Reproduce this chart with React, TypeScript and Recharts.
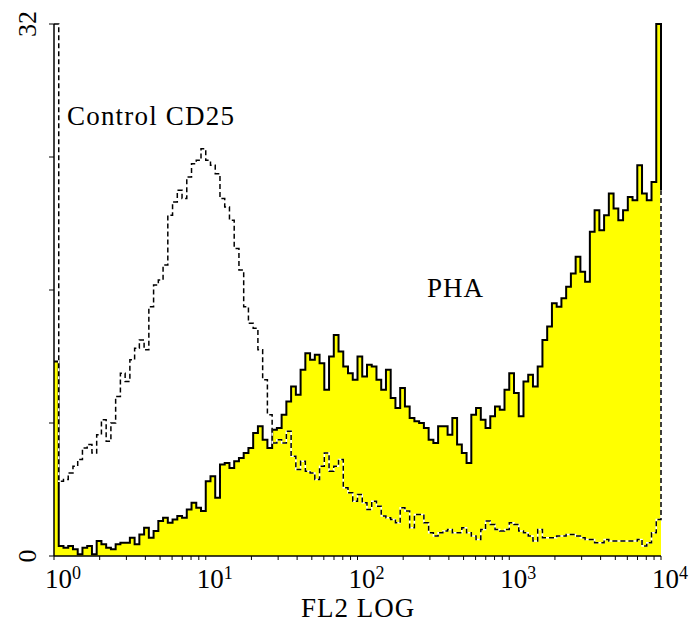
import { Area, ComposedChart, Line, XAxis, YAxis } from 'recharts';

const serifStyle = { fontFamily: "'Liberation Serif', 'DejaVu Serif', serif" };

// 129 log channels, 32 per decade, from 10^0 to 10^4
const channelsPerDecade = 32;

const phaCounts = [
  11.7, 0.6, 0.5, 0.6, 0.4, 0.1, 0.5, 0.6, 0.1, 0.9,
  0.7, 0.5, 0.4, 0.7, 0.8, 0.8, 1.1, 0.7, 1.3, 1.7,
  1.1, 1.5, 2.1, 2.3, 2.0, 2.2, 2.4, 2.3, 2.8, 3.2,
  2.9, 2.7, 4.5, 4.8, 3.5, 5.5, 5.6, 5.3, 5.7, 5.9,
  6.2, 6.5, 7.4, 7.8, 7.0, 6.5, 7.6, 7.7, 8.5, 9.3,
  10.2, 9.7, 11.2, 12.2, 11.8, 12.1, 11.6, 10.0, 12.0, 13.3,
  12.3, 11.4, 11.0, 10.6, 12.0, 10.8, 11.5, 11.4, 10.6, 10.0,
  11.2, 9.5, 8.9, 10.1, 9.0, 8.3, 8.1, 8.0, 7.7, 7.0,
  6.8, 7.8, 7.8, 7.3, 8.3, 6.7, 6.2, 5.6, 8.5, 8.9,
  8.2, 7.7, 8.4, 9.0, 8.8, 10.0, 11.0, 9.8, 8.4, 10.5,
  10.9, 10.2, 11.4, 13.0, 13.8, 15.2, 15.0, 15.5, 16.2, 17.0,
  18.0, 17.1, 16.5, 19.5, 20.8, 19.6, 20.5, 21.8, 20.9, 20.2,
  20.8, 21.6, 21.4, 23.5, 21.8, 21.4, 22.5, 32, 22,
];

const controlCounts = [
  32, 4.5, 4.6, 5.0, 5.4, 5.8, 6.5, 6.7, 6.2, 7.3,
  8.2, 6.9, 8.0, 9.6, 11.0, 10.5, 11.8, 12.5, 13.0, 12.4,
  15.0, 16.3, 16.6, 17.5, 20.5, 21.3, 22.0, 21.5, 22.8, 23.6,
  23.8, 24.5, 23.8, 23.5, 23.0, 21.5, 21.0, 20.2, 18.5, 17.2,
  15.0, 14.0, 13.7, 12.4, 10.6, 8.5, 6.8, 7.0, 6.8, 7.5,
  6.0, 5.2, 5.7, 5.1, 5.0, 4.6, 5.4, 6.2, 5.1, 5.4,
  5.8, 4.1, 3.8, 3.3, 3.7, 3.2, 2.8, 3.3, 3.0, 2.4,
  2.3, 2.2, 2.0, 2.9, 2.7, 1.7, 2.5, 2.5, 2.0, 1.4,
  1.2, 1.4, 1.5, 1.6, 1.4, 1.4, 1.7, 1.4, 1.2, 1.0,
  1.6, 2.1, 1.9, 1.6, 1.5, 1.6, 2.0, 1.9, 1.5, 1.4,
  1.2, 0.9, 1.6, 1.1, 1.1, 1.1, 1.2, 1.2, 1.3, 1.3,
  1.2, 1.1, 1.0, 1.0, 0.8, 0.8, 1.0, 0.9, 0.9, 0.9,
  0.9, 0.9, 0.9, 1.0, 0.6, 0.8, 1.4, 2.2, 22,
];

const decades = [1, 10, 100, 1000, 10000];
const minorSteps = [1, 2, 3, 4, 5, 6, 7, 8, 9];
const countTicks = [0, 8, 16, 24, 32];
const countLabels = [0, 32];

const xTicks = decades
  .slice(0, -1)
  .flatMap((d) => minorSteps.map((k) => k * d))
  .concat(decades[decades.length - 1]);

const data = phaCounts.map((pha, ch) => ({
  fl2: Math.pow(10, ch / channelsPerDecade),
  pha,
  control: controlCounts[ch],
}));

const FlTick = (props: any) => {
  const { x, y, payload } = props;
  const exp = Math.round(Math.log10(payload.value));
  if (Math.pow(10, exp) !== payload.value) return <g />;
  return (
    <text x={x - 9} y={y + 26} fontSize={27} style={serifStyle} fill='#000' textAnchor='start'>
      10
      <tspan dy={-9} fontSize={18}>
        {exp}
      </tspan>
    </text>
  );
};

const CountTick = (props: any) => {
  const { x, y, payload } = props;
  if (!countLabels.includes(payload.value)) return <g />;
  const cx = x - 20;
  return (
    <text
      x={cx}
      y={y}
      transform={`rotate(-90 ${cx} ${y})`}
      textAnchor='middle'
      dominantBaseline='central'
      fontSize={26}
      style={serifStyle}
      fill='#000'>
      {payload.value}
    </text>
  );
};

const App = () => {
  return (
    <div style={{ position: 'absolute', left: 0, top: 0, width: 694, height: 626, background: '#fff' }}>
      <ComposedChart width={694} height={626} data={data} margin={{ top: 24, right: 33, bottom: 0, left: 0 }}>
        <XAxis
          dataKey='fl2'
          type='number'
          scale='log'
          domain={[1, 10000]}
          ticks={xTicks}
          interval={0}
          height={70}
          axisLine={{ stroke: '#000', strokeWidth: 1.5 }}
          tickLine={{ stroke: '#000' }}
          tickSize={4}
          tick={(p: any) => <FlTick {...p} />}
        />
        <YAxis
          type='number'
          domain={[0, 32]}
          ticks={countTicks}
          interval={0}
          width={54}
          axisLine={{ stroke: '#000', strokeWidth: 1.5 }}
          tickLine={{ stroke: '#000' }}
          tickSize={5}
          tick={(p: any) => <CountTick {...p} />}
        />
        <Area
          dataKey='pha'
          type='stepAfter'
          stroke='#000'
          strokeWidth={2}
          fill='#ffff00'
          fillOpacity={1}
          dot={false}
          activeDot={false}
          isAnimationActive={false}
        />
        <Line
          dataKey='control'
          type='stepAfter'
          stroke='#fff'
          strokeWidth={1.5}
          dot={false}
          activeDot={false}
          isAnimationActive={false}
        />
        <Line
          dataKey='control'
          type='stepAfter'
          stroke='#000'
          strokeWidth={1.5}
          strokeDasharray='5 3'
          dot={false}
          activeDot={false}
          isAnimationActive={false}
        />
        <text x={67} y={125} fontSize={27} letterSpacing={1.2} style={serifStyle} fill='#000'>
          Control CD25
        </text>
        <text x={427} y={297} fontSize={27} letterSpacing={1} style={serifStyle} fill='#000'>
          PHA
        </text>
        <text x={358} y={617} fontSize={27} letterSpacing={1} style={serifStyle} fill='#000' textAnchor='middle'>
          FL2 LOG
        </text>
      </ComposedChart>
    </div>
  );
};

export default App;
